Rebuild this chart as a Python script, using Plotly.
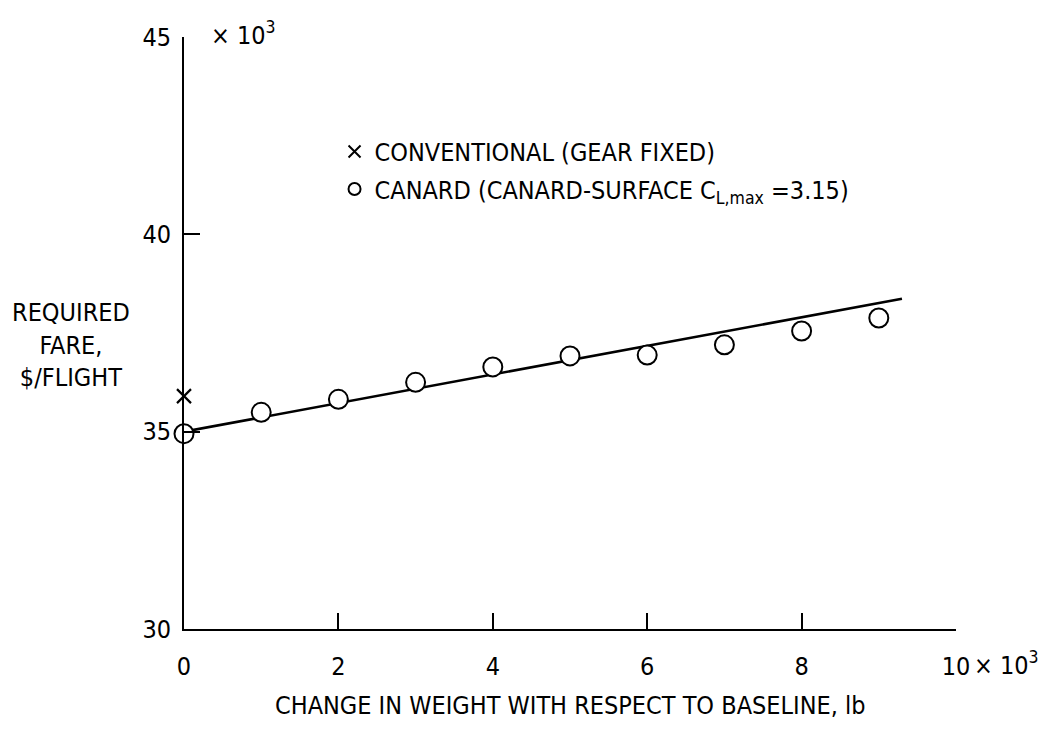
import plotly.graph_objects as go

# Data (x in thousands of lb, y in thousands of $/flight)
canard_x = [0, 1, 2, 3, 4, 5, 6, 7, 8, 9]
canard_y = [34.95, 35.49, 35.82, 36.25, 36.64, 36.92, 36.94, 37.20, 37.55, 37.88]
conv_x = [0]
conv_y = [35.90]
fit_x = [0, 9.3]
fit_y = [35.0, 38.37]

x_ticks = [0, 2, 4, 6, 8, 10]
x_ticktext = ["0", "2", "4", "6", "8", "10"]
y_ticks = [30, 35, 40, 45]
y_ticktext = ["30", "35", "40", "45"]

FONT = "Liberation Sans Narrow, DejaVu Sans Condensed, Roboto Condensed, Arial Narrow, sans-serif"
FS = 25

fig = go.Figure()
fig.add_trace(go.Scatter(x=fit_x, y=fit_y, mode="lines",
                         line=dict(color="black", width=2.6),
                         showlegend=False, hoverinfo="skip"))
fig.add_trace(go.Scatter(x=conv_x, y=conv_y, mode="markers",
                         name="CONVENTIONAL (GEAR FIXED)",
                         legendgroup="a", cliponaxis=False,
                         marker=dict(symbol="x-thin-open", size=14, color="black",
                                     line=dict(color="black", width=2.2))))
fig.add_trace(go.Scatter(x=canard_x, y=canard_y, mode="markers",
                         name="CANARD (CANARD-SURFACE C<sub>L,max</sub> =3.15)",
                         legendgroup="b", cliponaxis=False,
                         marker=dict(symbol="circle", size=19, color="white",
                                     line=dict(color="black", width=2))))

fig.update_layout(
    width=1038, height=732,
    margin=dict(l=184, r=82, t=37, b=103),
    paper_bgcolor="white", plot_bgcolor="white",
    font=dict(family=FONT, size=FS, color="black"),
    showlegend=True,
    legend=dict(x=0.195, y=0.845, xanchor="left", yanchor="top",
                bgcolor="rgba(0,0,0,0)", font=dict(size=FS, family=FONT),
                itemsizing="constant", tracegroupgap=2, traceorder="grouped"),
    xaxis=dict(range=[0, 10], tickvals=x_ticks, ticktext=x_ticktext,
               showgrid=False, zeroline=False, showline=True,
               linecolor="black", linewidth=2,
               ticks="inside", ticklen=16, tickwidth=2, tickcolor="black",
               ticklabelstandoff=14,
               tickfont=dict(size=FS, family=FONT)),
    yaxis=dict(range=[30, 45], tickvals=y_ticks, ticktext=y_ticktext,
               showgrid=False, zeroline=False, showline=True,
               linecolor="black", linewidth=2,
               ticks="inside", ticklen=16, tickwidth=2, tickcolor="black",
               ticklabelstandoff=6,
               tickfont=dict(size=FS, family=FONT)),
    annotations=[
        dict(text="REQUIRED<br>FARE,<br>$/FLIGHT", xref="paper", yref="paper",
             x=-0.146, y=0.48, xanchor="center", yanchor="middle",
             showarrow=False, align="center", font=dict(size=FS, family=FONT)),
        dict(text="× 10<sup>3</sup>", xref="paper", yref="paper",
             x=0.033, y=1.0, xanchor="left", yanchor="middle", yshift=4,
             showarrow=False, font=dict(size=FS, family=FONT)),
        dict(text="× 10<sup>3</sup>", xref="paper", yref="paper",
             x=1.0, y=0, xanchor="left", yanchor="top", xshift=16, yshift=-16,
             showarrow=False, font=dict(size=FS, family=FONT)),
        dict(text="CHANGE IN WEIGHT WITH RESPECT TO BASELINE, lb", xref="paper",
             yref="paper", x=0.5, y=0, xanchor="center", yanchor="top", yshift=-60,
             showarrow=False, font=dict(size=FS, family=FONT)),
    ],
)

fig.write_html("out.html")
